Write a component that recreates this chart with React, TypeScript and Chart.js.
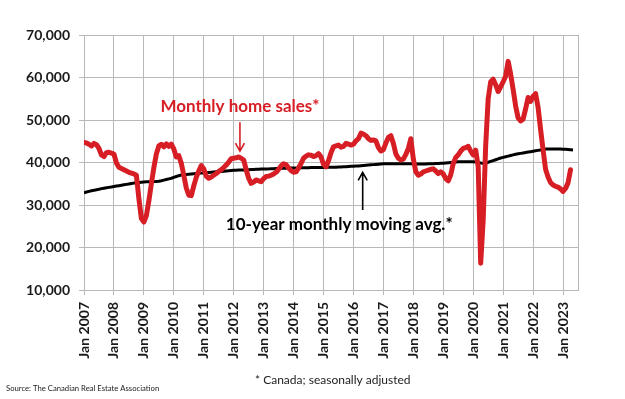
import React, { useEffect, useRef } from 'react';
import { Chart, registerables } from 'chart.js';
Chart.register(...registerables);

// Month index 0 = Jan 2007
const xTickLabels = [
  'Jan 2007', 'Jan 2008', 'Jan 2009', 'Jan 2010', 'Jan 2011', 'Jan 2012', 'Jan 2013', 'Jan 2014', 'Jan 2015',
  'Jan 2016', 'Jan 2017', 'Jan 2018', 'Jan 2019', 'Jan 2020', 'Jan 2021', 'Jan 2022', 'Jan 2023',
];
const yTickValues = [10000, 20000, 30000, 40000, 50000, 60000, 70000];

const monthlySales = [
  // 2007
  44700, 44600, 44300, 43900, 44500, 44200, 43300, 41800, 41400, 42300, 42400, 42200,
  // 2008
  42000, 39900, 38900, 38600, 38300, 38000, 37700, 37500, 37300, 37000, 31500, 26800,
  // 2009
  26000, 27500, 31000, 35000, 38800, 42000, 43900, 44300, 43700, 44400, 43800, 44300,
  // 2010
  43200, 41300, 41600, 39800, 37000, 34000, 32300, 32200, 34500, 36500, 38000, 39300,
  // 2011
  38500, 36800, 36300, 36600, 37000, 37400, 37900, 38300, 38800, 39400, 40100, 40900,
  // 2012
  41000, 41100, 41300, 41000, 40600, 38300, 36300, 35100, 35400, 35900, 35700, 35500,
  // 2013
  36200, 36700, 36800, 37000, 37300, 37700, 38400, 39200, 39700, 39500, 38700, 38100,
  // 2014
  37700, 37800, 38700, 39800, 41000, 41500, 41800, 41700, 41400, 41600, 42100, 41300,
  // 2015
  39600, 39000, 40400, 42300, 43700, 43900, 44100, 43600, 43800, 44500, 44300, 44100,
  // 2016
  44300, 45100, 45600, 46900, 46700, 46300, 45600, 45200, 45300, 45100, 43500, 42700,
  // 2017
  43000, 44600, 45900, 46300, 44500, 42000, 41000, 40600, 40800, 41900, 43300, 45600,
  // 2018
  40800, 37800, 37000, 37300, 37800, 38000, 38200, 38400, 38500, 38000, 37400, 37800,
  // 2019
  37300, 36200, 35700, 37100, 39800, 41200, 41800, 42700, 43300, 43500, 43800, 42700,
  // 2020
  41800, 42900, 39000, 16300, 26500, 44000, 55000, 59000, 59600, 58300, 56700, 57800,
  // 2021
  59000, 60300, 63800, 60800, 57200, 53300, 50500, 49800, 50200, 52600, 55300, 54400,
  // 2022
  55600, 56200, 53000, 47800, 43000, 38400, 36600, 35300, 34700, 34400, 34200, 33800,
  // 2023
  33200, 33900, 35200, 38300,
];

const movingAvg = [
  // 2007
  32900, 33050, 33200, 33350, 33450, 33600, 33700, 33850, 33950, 34050, 34150, 34250,
  // 2008
  34350, 34450, 34550, 34650, 34750, 34850, 34950, 35050, 35150, 35200, 35300, 35350,
  // 2009
  35400, 35450, 35500, 35500, 35500, 35550, 35600, 35700, 35850, 36000, 36150, 36300,
  // 2010
  36500, 36700, 36900, 37050, 37150, 37200, 37250, 37300, 37350, 37400, 37450, 37500,
  // 2011
  37550, 37600, 37650, 37700, 37750, 37800, 37850, 37900, 37950, 38000, 38050, 38100,
  // 2012
  38150, 38200, 38250, 38250, 38250, 38300, 38300, 38350, 38350, 38400, 38400, 38450,
  // 2013
  38450, 38500, 38500, 38550, 38550, 38600, 38600, 38650, 38650, 38650, 38700, 38700,
  // 2014
  38700, 38700, 38700, 38750, 38750, 38750, 38750, 38800, 38800, 38800, 38850, 38850,
  // 2015
  38850, 38850, 38900, 38900, 38900, 38900, 38950, 38950, 39000, 39000, 39050, 39100,
  // 2016
  39100, 39150, 39200, 39250, 39300, 39350, 39400, 39450, 39500, 39550, 39600, 39650,
  // 2017
  39700, 39700, 39700, 39700, 39700, 39700, 39700, 39700, 39700, 39700, 39700, 39700,
  // 2018
  39650, 39650, 39650, 39650, 39650, 39650, 39700, 39700, 39700, 39750, 39750, 39800,
  // 2019
  39850, 39900, 39950, 40000, 40050, 40100, 40150, 40200, 40200, 40200, 40200, 40200,
  // 2020
  40150, 40100, 40000, 39900, 39850, 39900, 40050, 40250, 40450, 40650, 40850, 41050,
  // 2021
  41200, 41350, 41500, 41650, 41800, 41950, 42050, 42150, 42250, 42350, 42450, 42550,
  // 2022
  42650, 42750, 42850, 42950, 43050, 43150, 43200, 43200, 43200, 43200, 43200, 43150,
  // 2023
  43100, 43100, 43050, 43000, 42950,
];

const RED = '#d71e25';
const GRID = '#b8b8b8';
const FONT = 'Lato';

const annotationPlugin = {
  id: 'annotations',
  afterDraw(chart: any) {
    const { ctx, chartArea, scales } = chart;
    const xs = scales.x;
    const ys = scales.y;
    ctx.save();
    // right border of plot area
    ctx.strokeStyle = GRID;
    ctx.lineWidth = 1;
    ctx.beginPath();
    ctx.moveTo(Math.round(chartArea.right) + 0.5, chartArea.top);
    ctx.lineTo(Math.round(chartArea.right) + 0.5, chartArea.bottom);
    ctx.stroke();

    const arrow = (x: number, y1: number, y2: number, color: string) => {
      ctx.strokeStyle = color;
      ctx.lineWidth = 1.6;
      ctx.beginPath();
      ctx.moveTo(x, y1);
      ctx.lineTo(x, y2);
      const dir = y2 > y1 ? -1 : 1;
      ctx.moveTo(x - 4.5, y2 + dir * 8);
      ctx.lineTo(x, y2);
      ctx.lineTo(x + 4.5, y2 + dir * 8);
      ctx.stroke();
    };

    // Monthly home sales label + arrow
    ctx.fillStyle = RED;
    ctx.font = `bold 17px ${FONT}`;
    ctx.textAlign = 'center';
    ctx.textBaseline = 'middle';
    ctx.fillText('Monthly home sales*', xs.getPixelForValue(62.5), ys.getPixelForValue(53100));
    arrow(xs.getPixelForValue(62.5), ys.getPixelForValue(49500), ys.getPixelForValue(42700), RED);

    // moving average label + arrow
    ctx.fillStyle = '#000';
    ctx.fillText('10-year monthly moving avg.*', xs.getPixelForValue(102.3), ys.getPixelForValue(25300));
    arrow(xs.getPixelForValue(111.7), ys.getPixelForValue(28800), ys.getPixelForValue(37700), '#000');

    // footnotes
    ctx.textAlign = 'left';
    ctx.font = `12px ${FONT}`;
    ctx.fillStyle = '#222';
    ctx.fillText('* Canada; seasonally adjusted', 255, 380);
    ctx.font = `7.7px ${FONT}`;
    ctx.fillText('Source: The Canadian Real Estate Association', 6, 389);
    ctx.restore();
  },
};

export default function App() {
  const ref = useRef<HTMLCanvasElement>(null);
  useEffect(() => {
    const canvas = ref.current;
    if (!canvas) return;
    const chart = new Chart(canvas, {
      type: 'line',
      data: {
        datasets: [
          {
            label: 'Monthly home sales*',
            data: monthlySales.map((v, i) => ({ x: i, y: v })),
            borderColor: RED,
            borderWidth: 5,
            pointRadius: 0,
            tension: 0,
            borderJoinStyle: 'round',
            borderCapStyle: 'round',
          },
          {
            label: '10-year monthly moving avg.*',
            data: movingAvg.map((v, i) => ({ x: i, y: v })),
            borderColor: '#000',
            borderWidth: 3,
            pointRadius: 0,
            tension: 0,
            borderJoinStyle: 'round',
          },
        ],
      },
      options: {
        animation: false,
        responsive: false,
        devicePixelRatio: 1,
        layout: { padding: { left: 0, top: 35, right: 47, bottom: 39 } },
        plugins: { legend: { display: false }, tooltip: { enabled: false } },
        scales: {
          x: {
            type: 'linear',
            min: 0,
            max: 198,
            afterBuildTicks: (s: any) => {
              s.ticks = xTickLabels.map((_, i) => ({ value: i * 12 }));
            },
            afterFit: (s: any) => {
              s.height = 70;
            },
            ticks: {
              callback: (_v: any, i: number) => xTickLabels[i],
              maxRotation: 90,
              minRotation: 90,
              autoSkip: false,
              padding: 7,
              color: '#1a1a1a',
              font: { family: FONT, weight: 'bold', size: 14 },
            },
            grid: { color: GRID, tickLength: 5 },
            border: { color: GRID },
          },
          y: {
            min: 10000,
            max: 70000,
            afterBuildTicks: (s: any) => {
              s.ticks = yTickValues.map((v) => ({ value: v }));
            },
            afterFit: (s: any) => {
              s.width = 84;
            },
            ticks: {
              callback: (v: any) => Number(v).toLocaleString('en-US'),
              padding: 9,
              color: '#1a1a1a',
              font: { family: FONT, weight: 'bold', size: 14 },
            },
            grid: { color: GRID, tickLength: 5 },
            border: { color: GRID },
          },
        },
      } as any,
      plugins: [annotationPlugin],
    });
    return () => chart.destroy();
  }, []);
  return (
    <div style={{ position: 'fixed', left: 0, top: 0, width: 625, height: 399, background: '#fff' }}>
      <canvas ref={ref} width={625} height={399} style={{ display: 'block' }} />
    </div>
  );
}
